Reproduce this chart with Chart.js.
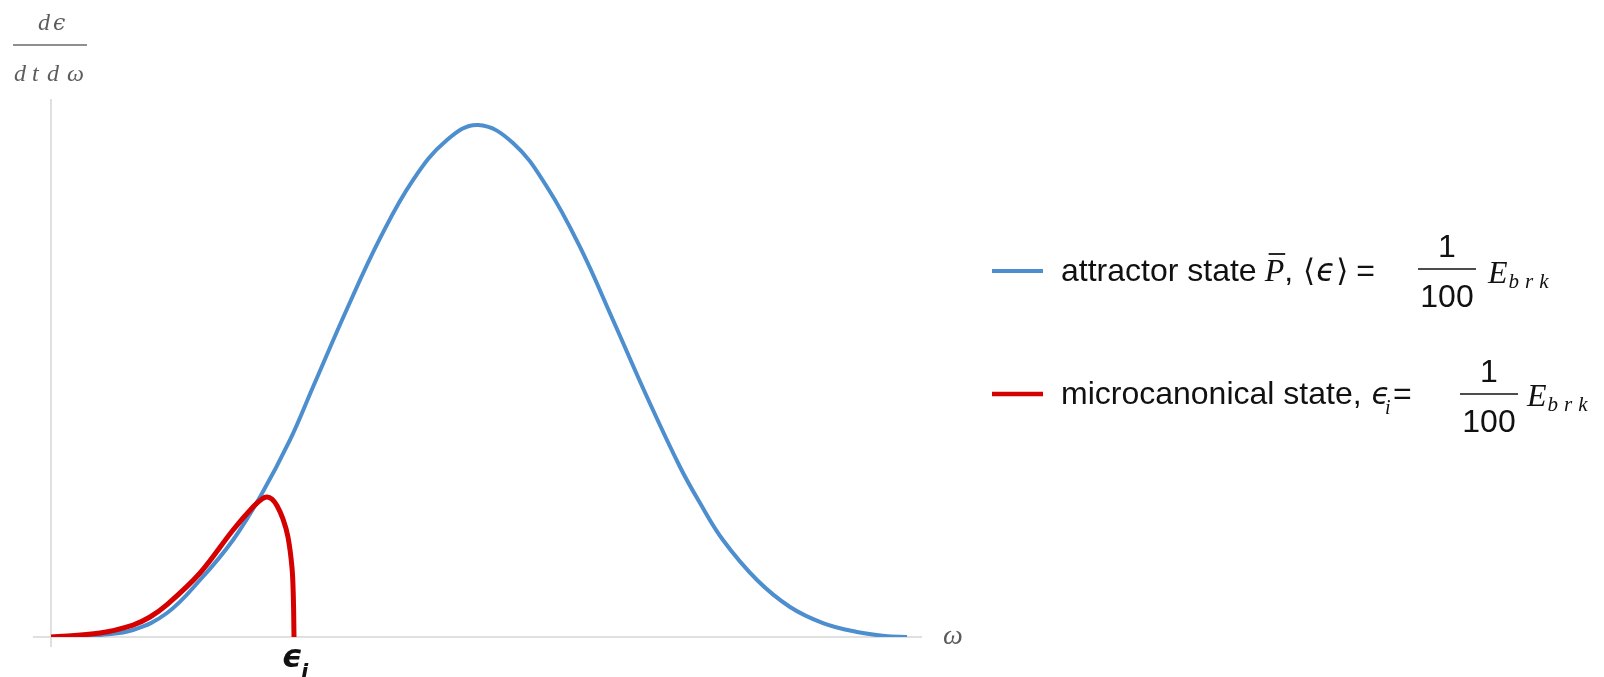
<!DOCTYPE html>
<html>
<head>
<meta charset="utf-8">
<script src="https://cdn.jsdelivr.net/npm/chart.js@4.4.1/dist/chart.umd.min.js"></script>
<style>
  html, body { margin: 0; padding: 0; background: #ffffff; }
  #wrap { width: 1604px; height: 677px; position: relative; }
</style>
</head>
<body>
<div id="wrap"><canvas id="spectrum" width="1604" height="677"></canvas></div>
<script>
// Emission spectrum dε/(dt dω) against ω (arbitrary units)
const attractorOmega  = [0, 0.333, 0.563, 0.941, 1.332, 1.711, 2.090, 2.400, 2.744, 3.008, 3.398, 3.777, 4.156, 4.546, 4.902, 5.304, 5.695, 6.073, 6.452, 6.843, 7.222, 7.451, 7.715, 8.106, 8.485, 8.863, 9.254, 9.575, 9.828];
const attractorValues = [0, 0.04, 0.39, 1.37, 4.68, 11.12, 18.93, 27.32, 38.45, 48.79, 64.02, 77.80, 89.19, 97.00, 99.93, 96.41, 87.83, 76.12, 61.87, 46.84, 33.18, 26.15, 18.93, 11.12, 5.86, 2.73, 0.98, 0.20, 0];

const microOmega  = [0, 0.563, 0.941, 1.137, 1.332, 1.711, 2.090, 2.319, 2.422, 2.480, 2.537, 2.595, 2.664, 2.721, 2.767, 2.782, 2.790];
const microValues = [0, 0.78, 2.34, 3.90, 6.30, 12.49, 20.88, 25.37, 26.93, 27.32, 26.90, 25.60, 23.00, 19.50, 13.50, 8.00, 0];

// the microcanonical spectrum cuts off at ω = ε_i
const epsilonI = 2.79;

const omegaRange = [0, 10];
const valueRange = [0, 105];

const seriesNames = ['attractor state', 'microcanonical state'];
const seriesColors = ['rgb(76,142,206)', 'rgb(213,0,0)'];

const toPoints = (xs, ys) => xs.map((x, i) => ({ x: x, y: ys[i] }));

function put(ctx, str, x, y, font, color, align) {
  ctx.font = font;
  ctx.fillStyle = color || '#111';
  ctx.textAlign = align || 'left';
  ctx.textBaseline = 'alphabetic';
  ctx.fillText(str, x, y);
  return ctx.measureText(str).width;
}

function hline(ctx, x0, x1, y, w, color) {
  ctx.beginPath();
  ctx.moveTo(x0, y);
  ctx.lineTo(x1, y);
  ctx.lineWidth = w;
  ctx.strokeStyle = color;
  ctx.stroke();
}

const SANS = '"Liberation Sans", Arial, sans-serif';
const SERIF = '"Liberation Serif", "DejaVu Serif", serif';
const MATH = '"DejaVu Sans", sans-serif';

function drawFraction(ctx, cx, barY, color) {
  hline(ctx, cx - 29, cx + 29, barY, 1.6, color);
  put(ctx, '1', cx, barY - 12, '32px ' + SANS, color, 'center');
  put(ctx, '100', cx, barY + 38, '32px ' + SANS, color, 'center');
}

function drawEbrk(ctx, x, base, color) {
  const w = put(ctx, 'E', x, base, 'italic 32px ' + SERIF, color);
  let sx = x + w + 1;
  ['b', 'r', 'k'].forEach(ch => {
    const cw = put(ctx, ch, sx, base + 5, 'italic 21px ' + SERIF, color);
    sx += cw + 6;
  });
}

const axesAndLabels = {
  id: 'axesAndLabels',
  beforeDatasetsDraw(chart) {
    const { ctx, scales: { x, y } } = chart;
    const x0 = x.getPixelForValue(omegaRange[0]);
    const y0 = y.getPixelForValue(valueRange[0]);
    ctx.save();
    hline(ctx, x0 - 18, x.right, y0, 1.5, '#d6d6d6');
    ctx.beginPath();
    ctx.moveTo(x0, y.top);
    ctx.lineTo(x0, y0 + 10);
    ctx.lineWidth = 1.5;
    ctx.strokeStyle = '#d6d6d6';
    ctx.stroke();
    ctx.restore();
  },
  afterDraw(chart) {
    const { ctx, scales: { x, y } } = chart;
    const y0 = y.getPixelForValue(0);
    ctx.save();

    // vertical axis title: dε / (dt dω)
    const grey = '#5c5c5c';
    const tf = 'italic 24px ' + SERIF;
    put(ctx, 'd', 38, 30, tf, grey);
    put(ctx, 'ϵ', 53, 30, 'italic 22px "DejaVu Serif", serif', grey);
    hline(ctx, 13, 87, 45, 1.5, '#6a6a6a');
    put(ctx, 'd', 14, 81, tf, grey);
    put(ctx, 't', 32, 81, tf, grey);
    put(ctx, 'd', 47, 81, tf, grey);
    put(ctx, 'ω', 67, 81, tf, grey);

    // horizontal axis title
    put(ctx, 'ω', x.right + 21, y0 + 7, 'italic 28px ' + SERIF, grey);

    // cut-off marker ε_i below the axis
    const ex = x.getPixelForValue(epsilonI);
    put(ctx, 'ϵ', ex - 2, y0 + 30, 'bold italic 32px ' + MATH, '#111', 'center');
    put(ctx, 'i', ex + 7, y0 + 42, 'bold italic 21px ' + MATH, '#111');

    const ink = '#111';
    ctx.lineCap = 'butt';

    // legend entry 1
    const b1 = 281;
    hline(ctx, 992, 1043, 271, 4, seriesColors[0]);
    let cx = 1061;
    cx += put(ctx, seriesNames[0], cx, b1, '32px ' + SANS, ink) + 8;
    const pw = put(ctx, 'P', cx, b1, 'italic 32px ' + SERIF, ink);
    hline(ctx, cx + 4, cx + pw + 1, b1 - 27, 1.8, ink);
    cx += pw;
    cx += put(ctx, ',', cx, b1, '32px ' + SANS, ink) + 10;
    cx += put(ctx, '⟨', cx, b1, '31px ' + MATH, ink) + 1;
    cx += put(ctx, 'ϵ', cx, b1, 'italic 31px ' + MATH, ink) + 1;
    cx += put(ctx, '⟩', cx, b1, '31px ' + MATH, ink) + 8;
    put(ctx, '=', cx, b1, '32px ' + SANS, ink);
    drawFraction(ctx, 1447, 269, ink);
    drawEbrk(ctx, 1488, b1 + 2, ink);

    // legend entry 2
    const b2 = 404;
    hline(ctx, 992, 1043, 394, 4.5, seriesColors[1]);
    cx = 1061;
    cx += put(ctx, seriesNames[1] + ',', cx, b2, '32px ' + SANS, ink) + 10;
    const ew = put(ctx, 'ϵ', cx, b2, 'italic 30px ' + MATH, ink);
    put(ctx, 'i', cx + ew - 5, b2 + 10, 'italic 20px ' + SERIF, ink);
    put(ctx, '=', cx + ew + 3, b2, '32px ' + SANS, ink);
    drawFraction(ctx, 1489, 394, ink);
    drawEbrk(ctx, 1527, b2 + 2, ink);

    ctx.restore();
  }
};

new Chart(document.getElementById('spectrum'), {
  type: 'line',
  data: {
    datasets: [
      {
        label: seriesNames[0],
        data: toPoints(attractorOmega, attractorValues),
        borderColor: seriesColors[0],
        borderWidth: 4,
        pointRadius: 0,
        tension: 0.4,
        fill: false,
        order: 2
      },
      {
        label: seriesNames[1],
        data: toPoints(microOmega, microValues),
        borderColor: seriesColors[1],
        borderWidth: 5,
        pointRadius: 0,
        tension: 0.35,
        fill: false,
        order: 1
      }
    ]
  },
  options: {
    responsive: false,
    animation: false,
    events: [],
    layout: { padding: { left: 51, right: 682, top: 99, bottom: 40 } },
    plugins: { legend: { display: false }, tooltip: { enabled: false } },
    scales: {
      x: { type: 'linear', display: false, min: omegaRange[0], max: omegaRange[1] },
      y: { type: 'linear', display: false, min: valueRange[0], max: valueRange[1] }
    }
  },
  plugins: [axesAndLabels]
});
</script>
</body>
</html>
